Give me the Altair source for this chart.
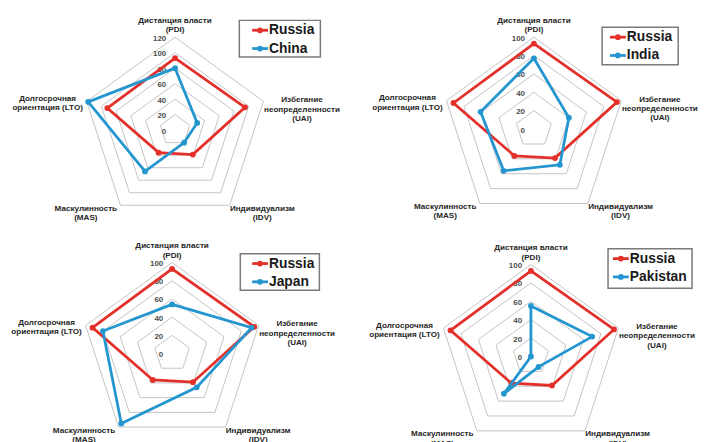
import math
import altair as alt
import pandas as pd

# ---------------- data ----------------
dimensions = ["PDI", "UAI", "IDV", "MAS", "LTO"]
dimension_labels = [
    "Дистанция власти\n(PDI)",
    "Избегание\nнеопределенности\n(UAI)",
    "Индивидуализм\n(IDV)",
    "Маскулинность\n(MAS)",
    "Долгосрочная\nориентация (LTO)",
]
russia = [93, 95, 39, 36, 92]
china = [80, 30, 20, 66, 118]
india = [77, 40, 48, 56, 61]
japan = [54, 92, 46, 95, 80]
pakistan = [55, 70, 14, 50, 0]
partners = ["China", "India", "Japan", "Pakistan"]
partner_values = [china, india, japan, pakistan]
axis_max = [120, 100, 100, 100]
tick_step = 20

# ---------------- style / layout ----------------
RED = "#e3302b"
BLUE = "#2496cf"
GRID = "#c4c4c4"
W, H = 698, 434
FONT = "Liberation Sans"
M = 8  # page margin

# page coordinates, converted below
panel_layout = [
    dict(cx=177, cy=129, R=94, box=(242, 18, 324, 55), line0=13),
    dict(cx=540, cy=128, R=93, box=(609, 25, 686, 63), line0=8),
    dict(cx=174, cy=355, R=92, box=(243, 254, 323, 291), line0=12),
    dict(cx=537, cy=358, R=93, box=(615, 249, 700, 289), line0=5),
]
# block-centre offsets of the axis titles from the outer vertex
label_offsets = {
    "PDI": (0, -16.5),
    "UAI": (39, -1),
    "IDV": (33, 3.5),
    "MAS": (-35, 3.5),
    "LTO": (-39.5, -2.5),
}

# ---------------- tables ----------------
series_rows, ring_rows, tick_rows, label_rows, legend_rows, box_rows = [], [], [], [], [], []
for p in range(4):
    lay = panel_layout[p]
    vmax = axis_max[p]
    base = dict(panel=p, cx=lay["cx"] - M, cy=lay["cy"] - M, R=lay["R"], vmax=vmax)
    for role, name, vals in [("Russia", "Russia", russia), ("Other", partners[p], partner_values[p])]:
        for k in range(6):
            d = k % 5
            series_rows.append(dict(base, role=role, name=name, k=k, dim=dimensions[d],
                                    value=vals[d], angle=2 * math.pi * d / 5, closing=(k == 5)))
    for level in range(tick_step, vmax + 1, tick_step):
        for k in range(6):
            ring_rows.append(dict(base, ring=f"{p}-{level}", level=level, k=k,
                                  angle=2 * math.pi * (k % 5) / 5))
    for level in range(0, vmax + 1, tick_step):
        tick_rows.append(dict(base, level=level, text=str(level)))
    for d, dim in enumerate(dimensions):
        dx, dy = label_offsets[dim]
        label_rows.append(dict(base, dim=dim, text=dimension_labels[d], angle=2 * math.pi * d / 5,
                               dx=dx, dy=dy))
    x0, y0, x1, y1 = lay["box"]
    box_rows.append(dict(panel=p, x0=x0 - M, y0=y0 - M, x1=x1 - M, y1=y1 - M))
    for i, (role, name) in enumerate([("Russia", "Russia"), ("Other", partners[p])]):
        legend_rows.append(dict(panel=p, role=role, name=name, lx=x0 - M + lay["line0"],
                                ly=y0 - M + 10 + 18.5 * i))

series_df = pd.DataFrame(series_rows)
ring_df = pd.DataFrame(ring_rows)
tick_df = pd.DataFrame(tick_rows)
label_df = pd.DataFrame(label_rows)
legend_df = pd.DataFrame(legend_rows)
box_df = pd.DataFrame(box_rows)

xs = alt.Scale(domain=[0, W], range=[0, W])
ys = alt.Scale(domain=[0, H], range=[0, H])
color = alt.Color("role:N", scale=alt.Scale(domain=["Russia", "Other"], range=[RED, BLUE]), legend=None)


def X(f):
    return alt.X(f, type="quantitative", scale=xs, axis=None)


def Y(f):
    return alt.Y(f, type="quantitative", scale=ys, axis=None)


# rings
rings = alt.Chart(ring_df).mark_line(color=GRID, strokeWidth=1).transform_calculate(
    px="datum.cx + datum.level / datum.vmax * datum.R * sin(datum.angle)",
    py="datum.cy - datum.level / datum.vmax * datum.R * cos(datum.angle)",
).encode(x=X("px"), y=Y("py"), detail="ring:N", order="k:Q")

# tick labels
ticks = alt.Chart(tick_df).mark_text(
    align="right", baseline="middle", font=FONT, fontWeight="bold", fontSize=8, color="#4d4d4d"
).transform_calculate(
    px="datum.cx - 9",
    py="datum.cy + 1.5 - datum.level / datum.vmax * datum.R",
).encode(x=X("px"), y=Y("py"), text="text:N")


# series
def series_layers(role):
    src = alt.Chart(series_df).transform_filter(alt.datum.role == role).transform_calculate(
        px="datum.cx + datum.value / datum.vmax * datum.R * sin(datum.angle)",
        py="datum.cy - datum.value / datum.vmax * datum.R * cos(datum.angle)",
    )
    line = src.mark_line(strokeWidth=2.8).encode(
        x=X("px"), y=Y("py"), detail="panel:N", order="k:Q", color=color)
    pts = src.transform_filter("!datum.closing").mark_point(
        filled=True, shape="circle", size=34, opacity=1).encode(x=X("px"), y=Y("py"), color=color)
    return [line, pts]


# axis titles
labels = alt.Chart(label_df).transform_calculate(
    px="datum.cx + datum.R * sin(datum.angle) + datum.dx",
    py="datum.cy - datum.R * cos(datum.angle) + datum.dy",
).mark_text(
    align="center", baseline="middle", lineBreak="\n", font=FONT, fontWeight="bold",
    fontSize=8.2, lineHeight=9.5, color="#262626"
).encode(x=X("px"), y=Y("py"), text="text:N")

# legends
boxes = alt.Chart(box_df).mark_rect(fill="white", stroke="#7a7a7a", strokeWidth=1.5).encode(
    x=X("x0"), x2="x1", y=Y("y0"), y2="y1")
leg = alt.Chart(legend_df)
leg_lines = leg.transform_calculate(a="datum.lx", b="datum.lx + 16").mark_rule(strokeWidth=2.8).encode(
    x=X("a"), x2="b", y=Y("ly"), color=color)
leg_pts = leg.transform_calculate(a="datum.lx + 8").mark_point(
    filled=True, shape="circle", size=34, opacity=1).encode(x=X("a"), y=Y("ly"), color=color)
leg_text = leg.transform_calculate(a="datum.lx + 17").mark_text(
    align="left", baseline="middle", font=FONT, fontWeight="bold", fontSize=14, color="#1a1a1a"
).encode(x=X("a"), y=Y("ly"), text="name:N")

chart = alt.layer(
    rings, ticks, *series_layers("Russia"), *series_layers("Other"), labels,
    boxes, leg_lines, leg_pts, leg_text
).properties(
    width=W, height=H, padding=0, autosize=alt.AutoSizeParams(type="none"), background="white"
).configure_view(stroke=None)

chart.save("out.html", embed_options={"renderer": "svg", "actions": False})
